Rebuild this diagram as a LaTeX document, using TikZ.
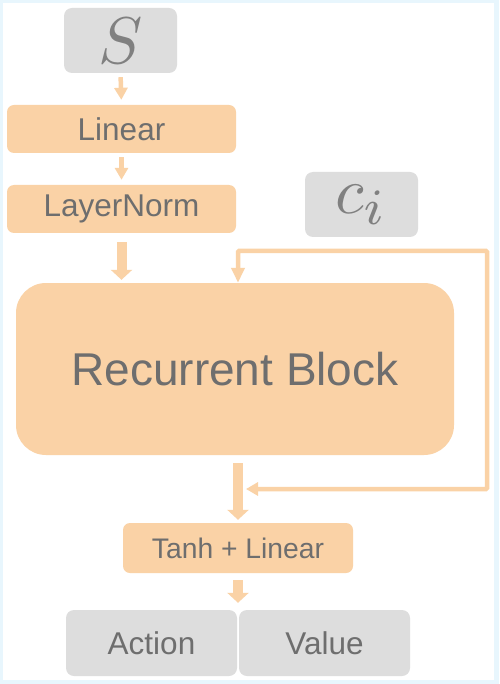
\documentclass[tikz,border=0pt]{standalone}
\usepackage{fontspec}
\setmainfont{Liberation Sans}
\usetikzlibrary{arrows.meta,calc}
\definecolor{boxor}{RGB}{250,210,166}
\definecolor{boxgr}{RGB}{221,221,221}
\definecolor{txtgr}{RGB}{110,110,110}
\definecolor{mathgr}{RGB}{128,128,128}
\definecolor{frameblue}{RGB}{232,246,253}
\tikzset{
  orbox/.style={fill=boxor,draw=none,rounded corners=7pt,inner sep=0pt,text=txtgr,font=\fontsize{31.5}{31.5}\selectfont},
  grbox/.style={fill=boxgr,draw=none,rounded corners=8pt,inner sep=0pt,text=txtgr,font=\fontsize{31.5}{31.5}\selectfont},
  mathbox/.style={fill=boxgr,draw=none,rounded corners=8pt,inner sep=0pt,text=mathgr,font=\fontsize{10}{12}\selectfont,minimum width=113pt,minimum height=65pt},
  thinarrow/.style={draw=boxor,line width=4.5pt,-{Triangle[length=12pt,width=13pt]}},
  thickarrow/.style={draw=boxor,line width=10pt,-{Triangle[length=10pt,width=21pt]}},
  looparrow/.style={draw=boxor,line width=4.5pt,{Triangle[length=12pt,width=13pt]}-{Triangle[length=15pt,width=13pt]},rounded corners=1pt}
}
\begin{document}
\begin{tikzpicture}[x=1pt,y=-1pt]
\useasboundingbox (0,0) rectangle (499,684);
\fill[frameblue] (0,0) rectangle (499,684);
\fill[white] (3,3) rectangle (494,680);
\node[mathbox] (S) at (120.5,40.5) {\scalebox{6.6}{$S$}};
\node[orbox,minimum width=229pt,minimum height=48pt] (lin) at (121.5,129) {Linear};
\node[orbox,minimum width=229pt,minimum height=48pt] (ln) at (121.5,209) {LayerNorm};
\node[mathbox] (ci) at (361.5,204.5) {\scalebox{6.6}{$c_{\scalebox{1.1}{$\scriptstyle i$}}$}};
\node[orbox,minimum width=438pt,minimum height=172pt,rounded corners=30pt,font=\fontsize{46}{46}\selectfont] (rb) at (235,369) {Recurrent Block};
\node[orbox,minimum width=230pt,minimum height=50pt,font=\fontsize{28.3}{28.3}\selectfont] (th) at (238,548) {Tanh + Linear};
\node[grbox,minimum width=171pt,minimum height=66pt] (act) at (151.5,643) {Action};
\node[grbox,minimum width=171pt,minimum height=66pt] (val) at (324.5,643) {Value};
\coordinate (av) at ($(act.north east)!0.5!(val.north west)$);
\coordinate (loopR) at (487,251);
\coordinate (loopB) at ($(th.north |- 0,489)+(7,0)$);
\draw[thinarrow,shorten <=4pt,shorten >=5pt] (S.south) -- (lin.north);
\draw[thinarrow,shorten <=4pt,shorten >=5pt] (lin.south) -- (ln.north);
\draw[thickarrow,shorten <=9pt,shorten >=3pt] (ln.south) -- (ln.south |- rb.north);
\draw[thickarrow,shorten <=8pt,shorten >=3pt] (th.north |- rb.south) -- (th.north);
\draw[thickarrow,shorten <=7pt,shorten >=7pt] (th.south -| av) -- (av);
\draw[looparrow,shorten <=1pt] (loopB) -| (loopR) -| (th.north |- rb.north);
\end{tikzpicture}
\end{document}
